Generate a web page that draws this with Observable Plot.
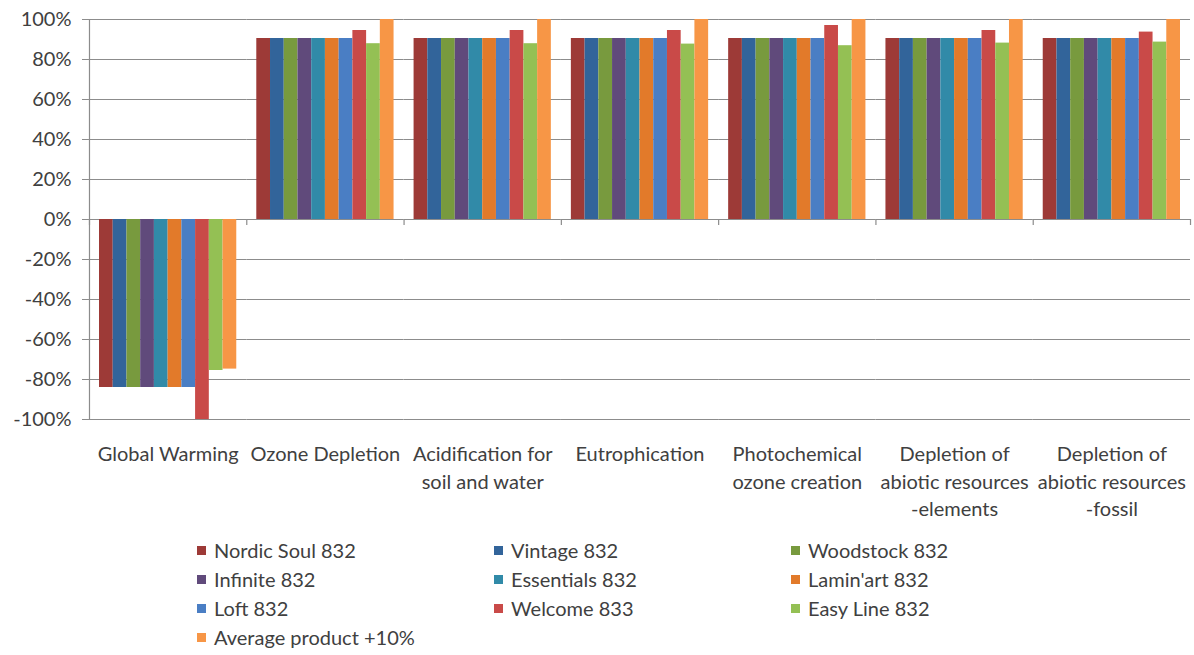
<!DOCTYPE html>
<html><head><meta charset="utf-8">
<script src="https://cdn.jsdelivr.net/npm/d3@7"></script>
<script src="https://cdn.jsdelivr.net/npm/@observablehq/plot@0.6"></script>
<style>
body{margin:0;background:#fff;font-family:Lato,sans-serif;}
#legend{display:grid;grid-template-columns:297px 297px 297px;margin-left:197px;margin-top:16px;font-size:20px;color:#404040;line-height:29px;}
.item{display:flex;align-items:center;white-space:nowrap;}
.sw{width:9px;height:9px;margin-right:8px;flex:none;}
</style></head><body>
<div id="chart"></div><div id="legend"></div>
<script>
const categories = ["Global Warming","Ozone Depletion","Acidification for soil and water","Eutrophication","Photochemical ozone creation","Depletion of abiotic resources -elements","Depletion of abiotic resources -fossil"];
const categoryLabels = ["Global Warming","Ozone Depletion","Acidification for\nsoil and water","Eutrophication","Photochemical\nozone creation","Depletion of\nabiotic resources\n-elements","Depletion of\nabiotic resources\n-fossil"];
const series = ["Nordic Soul 832","Vintage 832","Woodstock 832","Infinite 832","Essentials 832","Lamin'art 832","Loft 832","Welcome 833","Easy Line 832","Average product +10%"];
const colors = ["#9d3a37","#32649a","#789a3e","#604a7b","#318aa8","#e27a2a","#4a7ec4","#c94a48","#94c054","#f79646"];

const nordicSoul = [-0.84, 0.905, 0.905, 0.905, 0.905, 0.905, 0.905];
const vintage    = [-0.84, 0.905, 0.905, 0.905, 0.905, 0.905, 0.905];
const woodstock  = [-0.84, 0.905, 0.905, 0.905, 0.905, 0.905, 0.905];
const infinite   = [-0.84, 0.905, 0.905, 0.905, 0.905, 0.905, 0.905];
const essentials = [-0.84, 0.905, 0.905, 0.905, 0.905, 0.905, 0.905];
const laminart   = [-0.84, 0.905, 0.905, 0.905, 0.905, 0.905, 0.905];
const loft       = [-0.84, 0.905, 0.905, 0.905, 0.905, 0.905, 0.905];
const welcome    = [-1.00, 0.945, 0.945, 0.945, 0.970, 0.945, 0.937];
const easyLine   = [-0.755, 0.879, 0.879, 0.877, 0.869, 0.882, 0.887];
const average    = [-0.748, 1.00, 1.00, 1.00, 1.00, 1.00, 1.00];
const seriesValues = [nordicSoul, vintage, woodstock, infinite, essentials, laminart, loft, welcome, easyLine, average];

const yTicks = [-1,-0.8,-0.6,-0.4,-0.2,0,0.2,0.4,0.6,0.8,1];

const data = [];
series.forEach((s, i) => categories.forEach((c, j) => data.push({category: c, series: s, value: seriesValues[i][j]})));
const labelOf = new Map(categories.map((c, i) => [c, categoryLabels[i]]));

const W = 1194, H = 520, mL = 99, mR = 14, mT = 19, mB = 101;
const pI = 0.1273;
const step = (W - mL - mR) / (categories.length - pI);
const halfGap = pI * step / 2;
const barW = step * (1 - pI) / series.length;
const edge = barW / 2 + halfGap;
const gridColor = "#8c8c8c";
const textColor = "#404040";

const chart = Plot.plot({
  width: W, height: H,
  marginLeft: mL, marginRight: mR, marginTop: mT, marginBottom: mB,
  style: {fontFamily: "Lato, sans-serif", fontSize: "20px", color: textColor, background: "#fff"},
  fx: {domain: categories, paddingInner: pI, paddingOuter: 0, round: false, axis: null},
  x: {domain: series, padding: 0, round: false, axis: null},
  y: {domain: [-1, 1], axis: null},
  color: {domain: series, range: colors},
  marks: [
    Plot.ruleY(yTicks, {stroke: gridColor, strokeWidth: 1.2, insetLeft: -halfGap, insetRight: -halfGap}),
    Plot.barY(data, {fx: "category", x: "series", y: "value", fill: "series"}),
    Plot.ruleX(categories, {fx: d => d, x: () => series[0], y1: 0, y2: 0, insetBottom: -6, dx: -edge, stroke: gridColor, strokeWidth: 1.2}),
    Plot.ruleX([categories[categories.length - 1]], {fx: d => d, x: () => series[series.length - 1], y1: 0, y2: 0, insetBottom: -6, dx: edge, stroke: gridColor, strokeWidth: 1.2}),
    Plot.ruleX([categories[0]], {fx: d => d, x: () => series[0], y1: -1, y2: 1, dx: -edge, stroke: gridColor, strokeWidth: 1.2}),
    Plot.axisY({ticks: yTicks, tickFormat: d => Math.round(d * 100) + "%", tickSize: 7, tickPadding: 11, dx: -halfGap, stroke: gridColor, fill: textColor, fontSize: 20, label: null}),
    Plot.axisFx({anchor: "bottom", tickSize: 0, tickPadding: 22, tickFormat: d => labelOf.get(d), fontSize: 20, lineHeight: 1.38, label: null, fill: textColor})
  ]
});
document.getElementById("chart").appendChild(chart);

const legend = document.getElementById("legend");
series.forEach((s, i) => {
  const item = document.createElement("div");
  item.className = "item";
  const sw = document.createElement("span");
  sw.className = "sw";
  sw.style.background = colors[i];
  item.appendChild(sw);
  item.appendChild(document.createTextNode(s));
  legend.appendChild(item);
});
</script>
</body></html>
